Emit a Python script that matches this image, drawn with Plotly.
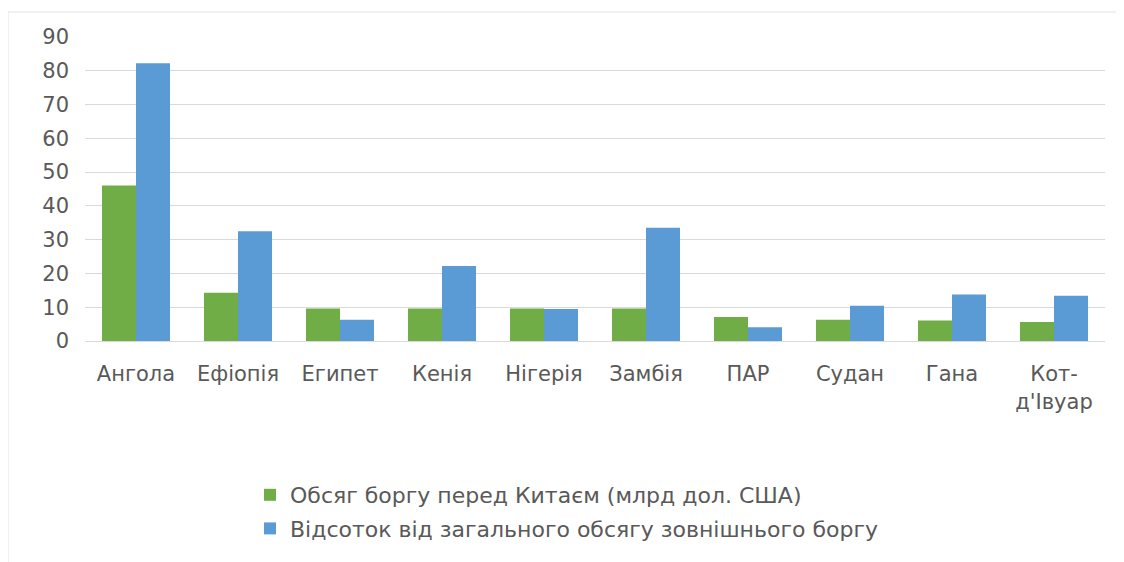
import plotly.graph_objects as go

categories = ["Ангола", "Ефіопія", "Египет", "Кенія", "Нігерія", "Замбія", "ПАР", "Судан", "Гана", "Кот-<br>д'Івуар"]
debt_china = [46, 14.3, 9.6, 9.6, 9.6, 9.6, 7.1, 6.3, 6.1, 5.6]
share_external = [82.2, 32.5, 6.3, 22.2, 9.5, 33.5, 4.1, 10.4, 13.8, 13.4]
series_names = ["Обсяг боргу перед Китаєм (млрд дол. США)", "Відсоток від загального обсягу зовнішнього боргу"]
y_ticks = [0, 10, 20, 30, 40, 50, 60, 70, 80, 90]

FONT = "DejaVu Sans, Noto Sans, sans-serif"
TXT = "#595959"

# page offset of the figure (body margin)
OX, OY = 8, 8
PL, PR, PT, PB = 85, 1105, 37, 341  # plot area in page pixels
W, H = 1124 - OX, 562 - OY
PW, PH = PR - PL, PB - PT

def px(x):
    return (x - PL) / PW

def py(y):
    return (PB - y) / PH

fig = go.Figure()
fig.add_trace(go.Bar(x=categories, y=debt_china, name=series_names[0], legendgroup="a",
                     marker=dict(color="#70ad47", line=dict(width=0))))
fig.add_trace(go.Bar(x=categories, y=share_external, name=series_names[1], legendgroup="b",
                     marker=dict(color="#5b9bd5", line=dict(width=0))))

fig.update_layout(
    width=W, height=H,
    margin=dict(l=PL - OX, r=OX + W - PR, t=PT - OY, b=OY + H - PB),
    paper_bgcolor="white", plot_bgcolor="white",
    barmode="group", bargap=0.333, bargroupgap=0,
    font=dict(family=FONT, size=21, color=TXT),
    showlegend=True,
    legend=dict(orientation="v", x=px(250), xanchor="left", y=py(474), yanchor="top",
                font=dict(size=22, color=TXT), traceorder="grouped", tracegroupgap=2, itemwidth=30),
    shapes=[dict(type="rect", xref="paper", yref="paper", x0=px(OX), x1=px(1120), y0=py(600), y1=py(12),
                 line=dict(color="#e3e3e3", width=1), fillcolor="rgba(0,0,0,0)", layer="below")],
)
fig.update_xaxes(showgrid=False, showline=True, linecolor="#d9d9d9", linewidth=1, ticks="",
                 tickfont=dict(size=21, color=TXT), ticklabelstandoff=14)
fig.update_yaxes(range=[0, 90], tickvals=y_ticks, showgrid=True, gridcolor="#d9d9d9", gridwidth=1,
                 zeroline=False, showline=False, ticks="", tickfont=dict(size=21, color=TXT), ticklabelstandoff=15)

fig.write_html("out.html")
